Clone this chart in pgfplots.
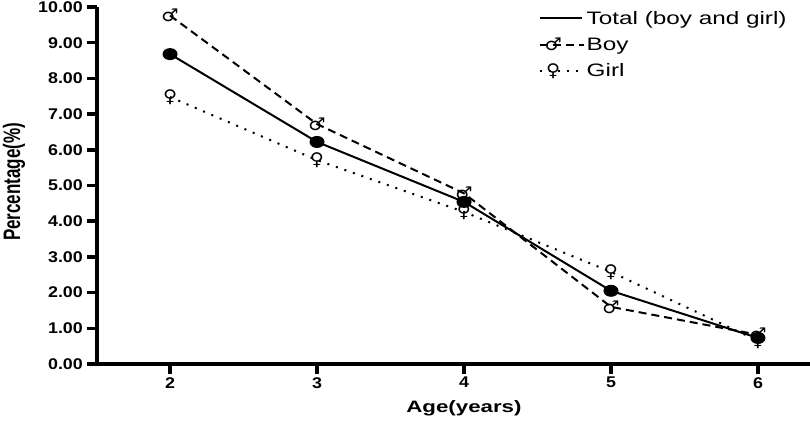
\documentclass[border=0pt]{standalone}
\usepackage{pgfplots}
\pgfplotsset{compat=1.18}
\usepackage{fontspec}
\setmainfont{Liberation Sans}[FakeStretch=1.35]
\newfontfamily\plainsans{Liberation Sans}
\newfontfamily\tickf{Liberation Sans}[FakeStretch=1.15]
\newfontfamily\symf{DejaVu Sans}[FakeStretch=1.1]
\pgfplotsset{
  nomarklegend/.style={legend image code/.code={\draw[##1, mark=none] (0pt,0pt) -- (27pt,0pt); \path (0pt,0pt) -- (42pt,0pt);}},
}
\begin{document}
\begin{tikzpicture}
\path[use as bounding box] (0pt,0pt) rectangle (810pt,422pt);
\begin{axis}[
  at={(97pt,58pt)}, anchor=south west,
  scale only axis, width=713pt, height=357pt,
  xmin=1.503, xmax=6.354, ymin=0, ymax=10,
  clip=false,
  axis x line*=bottom, axis y line*=left,
  axis line style={-, line width=3.5pt},
  every tick/.style={line width=3.5pt, black},
  tick align=outside,
  xtick={2,3,4,5,6},
  ytick={0,1,...,10},
  major tick length=10pt,
  yticklabel={\pgfmathprintnumber[assume math mode=true,fixed,fixed zerofill,precision=2]{\tick}},
  xticklabel={\pgfmathprintnumber[assume math mode=true]{\tick}},
  yticklabel style={inner sep=4pt},
  tick label style={font=\tickf\fontsize{15.5}{17}\selectfont\bfseries},
  xticklabel style={inner sep=2pt, yshift=-1pt},
  xlabel={Age(years)},
  xlabel style={at={(axis description cs:0.5147,-0.123)}, anchor=center, font=\fontsize{16.5}{18}\selectfont\bfseries},
  ylabel={\scalebox{1}[1.4]{\plainsans\bfseries Percentage(\%)}},
  ylabel style={at={(axis description cs:-0.1164,0.51)}, anchor=center, font=\fontsize{17}{19}\selectfont},
  legend style={at={(axis description cs:0.615,1.0)}, anchor=north west, draw=none, fill=none,
    font=\fontsize{18}{20}\selectfont, row sep=8pt, nodes={inner sep=2pt}},
  legend cell align=left,
  legend image code/.code={\draw[mark repeat=2, mark phase=2, #1] plot coordinates {(0pt,0pt) (13.5pt,0pt) (27pt,0pt)}; \path (0pt,0pt) -- (44pt,0pt);},
]
\addplot[black, line width=2pt, mark=*, mark size=5pt, mark options={solid, xscale=1.3}, nomarklegend]
  coordinates {(2,8.68) (3,6.22) (4,4.54) (5,2.05) (6,0.73)};
\addlegendentry{Total (boy and girl)}
\addplot[black, line width=2pt, dash pattern=on 8pt off 5pt, mark=text, text mark={\symf\bfseries\fontsize{17.5}{17.5}\selectfont ♂}, mark options={solid}]
  coordinates {(2,9.76) (3,6.72) (4,4.78) (5,1.60) (6,0.82)};
\addlegendentry{Boy}
\addplot[black, line width=2pt, dash pattern=on 2pt off 7pt, mark=text, text mark={\symf\bfseries\fontsize{17.5}{17.5}\selectfont ♀}, mark options={solid}]
  coordinates {(2,7.48) (3,5.71) (4,4.26) (5,2.58) (6,0.65)};
\addlegendentry{Girl}
\end{axis}
\end{tikzpicture}
\end{document}
